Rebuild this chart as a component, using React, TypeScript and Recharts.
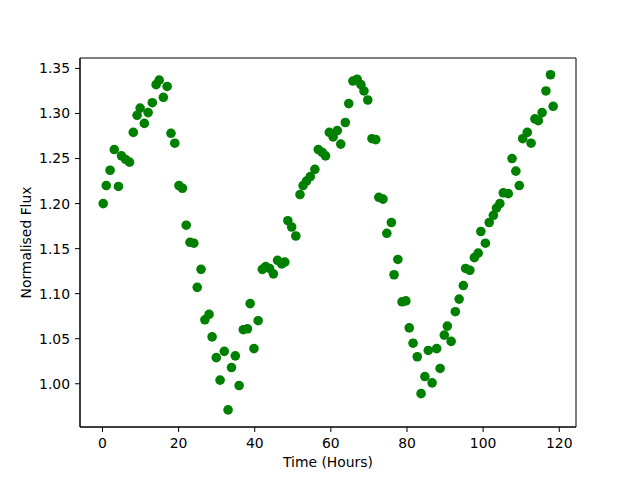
import {
  ScatterChart,
  Scatter,
  XAxis,
  YAxis,
  Label,
  ReferenceArea,
} from "recharts";

// time (hours) of each sample
const times = [
  0.2, 1.0, 2.0, 3.1, 4.2, 5.0, 6.1, 7.1, 8.1, 9.1, 9.9, 11.0, 12.0, 13.1, 14.1,
  14.9, 16.0, 17.0, 18.0, 19.0, 20.1, 21.0, 22.0, 23.0, 24.0, 24.9, 25.9, 26.9,
  28.0, 28.8, 29.9, 30.9, 32.0, 33.0, 33.9, 34.9, 35.9, 37.0, 38.1, 38.8, 39.8,
  40.9, 42.0, 42.9, 43.9, 44.9, 46.0, 47.1, 47.9, 48.7, 49.7, 50.8, 51.9, 52.7,
  53.6, 54.6, 55.8, 56.7, 57.7, 58.6, 59.6, 60.6, 61.7, 62.6, 63.8, 64.7, 65.8,
  66.9, 67.9, 68.7, 69.7, 70.8, 71.8, 72.6, 73.7, 74.7, 75.9, 76.6, 77.6, 78.7,
  79.7, 80.6, 81.6, 82.7, 83.7, 84.7, 85.6, 86.6, 87.8, 88.7, 89.8, 90.6, 91.6,
  92.7, 93.7, 94.8, 95.4, 96.5, 97.7, 98.7, 99.4, 100.6, 101.6, 102.7, 103.5,
  104.4, 105.3, 106.6, 107.6, 108.6, 109.5, 110.4, 111.6, 112.6, 113.6, 114.5,
  115.5, 116.5, 117.7, 118.4,
];

const flux = [
  1.2, 1.22, 1.237, 1.26, 1.219, 1.253, 1.249, 1.246, 1.279, 1.298, 1.306,
  1.289, 1.301, 1.312, 1.332, 1.337, 1.318, 1.33, 1.278, 1.267, 1.22, 1.217,
  1.176, 1.157, 1.156, 1.107, 1.127, 1.071, 1.077, 1.052, 1.029, 1.004, 1.036,
  0.971, 1.018, 1.031, 0.998, 1.06, 1.061, 1.089, 1.039, 1.07, 1.127, 1.13,
  1.128, 1.122, 1.137, 1.133, 1.135, 1.181, 1.174, 1.164, 1.21, 1.22, 1.225,
  1.23, 1.238, 1.26, 1.257, 1.253, 1.279, 1.274, 1.281, 1.266, 1.29, 1.311,
  1.336, 1.338, 1.332, 1.325, 1.315, 1.272, 1.271, 1.207, 1.205, 1.167, 1.179,
  1.121, 1.138, 1.091, 1.092, 1.062, 1.045, 1.03, 0.989, 1.008, 1.037, 1.001,
  1.039, 1.017, 1.054, 1.064, 1.047, 1.08, 1.094, 1.109, 1.128, 1.126, 1.14,
  1.145, 1.169, 1.156, 1.179, 1.187, 1.195, 1.2, 1.212, 1.211, 1.25, 1.236,
  1.22, 1.272, 1.279, 1.267, 1.294, 1.292, 1.301, 1.325, 1.343, 1.308,
];

const xTicks = [0, 20, 40, 60, 80, 100, 120];
const yTicks = [1.0, 1.05, 1.1, 1.15, 1.2, 1.25, 1.3, 1.35];

const X_DOMAIN: [number, number] = [-5.9, 124.4];
const Y_DOMAIN: [number, number] = [0.952, 1.3616];

const points = times.map((t, i) => ({ t, f: flux[i] }));

const FONT = "'DejaVu Sans', sans-serif";
const tickStyle = { fill: "#000", fontSize: 13.9, fontFamily: FONT };

const Dot = (props: any) => (
  <circle cx={props.cx} cy={props.cy} r={4.8} fill="#008000" />
);

const XTitle = ({ viewBox }: any) => (
  <text
    x={viewBox.x + viewBox.width / 2}
    y={viewBox.y + 40}
    textAnchor="middle"
    fontSize={13.9}
    fontFamily={FONT}
    fill="#000"
  >
    Time (Hours)
  </text>
);

const YTitle = ({ viewBox }: any) => {
  const x = viewBox.x + 31;
  const y = viewBox.y + viewBox.height / 2;
  return (
    <text
      x={x}
      y={y}
      transform={`rotate(-90, ${x}, ${y})`}
      textAnchor="middle"
      fontSize={13.9}
      fontFamily={FONT}
      fill="#000"
    >
      Normalised Flux
    </text>
  );
};

export default function App() {
  return (
    <div
      style={{
        position: "absolute",
        left: 0,
        top: 0,
        width: 640,
        height: 480,
        background: "#fff",
      }}
    >
      <ScatterChart
        width={640}
        height={480}
        margin={{ top: 58, right: 64, bottom: 0, left: 0 }}
      >
        <XAxis
          type="number"
          dataKey="t"
          domain={X_DOMAIN}
          ticks={xTicks}
          height={53}
          stroke="#000"
          tickSize={5}
          tickMargin={6}
          tick={tickStyle}
          allowDataOverflow
        >
          <Label content={XTitle} />
        </XAxis>
        <YAxis
          type="number"
          dataKey="f"
          domain={Y_DOMAIN}
          ticks={yTicks}
          width={80}
          stroke="#000"
          tickSize={5}
          tickMargin={5}
          tick={tickStyle}
          tickFormatter={(v: number) => v.toFixed(2)}
          allowDataOverflow
        >
          <Label content={YTitle} />
        </YAxis>
        {/* frame around the plot area */}
        <ReferenceArea
          x1={X_DOMAIN[0]}
          x2={X_DOMAIN[1]}
          y1={Y_DOMAIN[0]}
          y2={Y_DOMAIN[1]}
          fill="none"
          fillOpacity={0}
          stroke="#000"
          strokeOpacity={1}
          strokeWidth={1}
          ifOverflow="visible"
        />
        <Scatter data={points} shape={Dot} isAnimationActive={false} />
      </ScatterChart>
    </div>
  );
}
